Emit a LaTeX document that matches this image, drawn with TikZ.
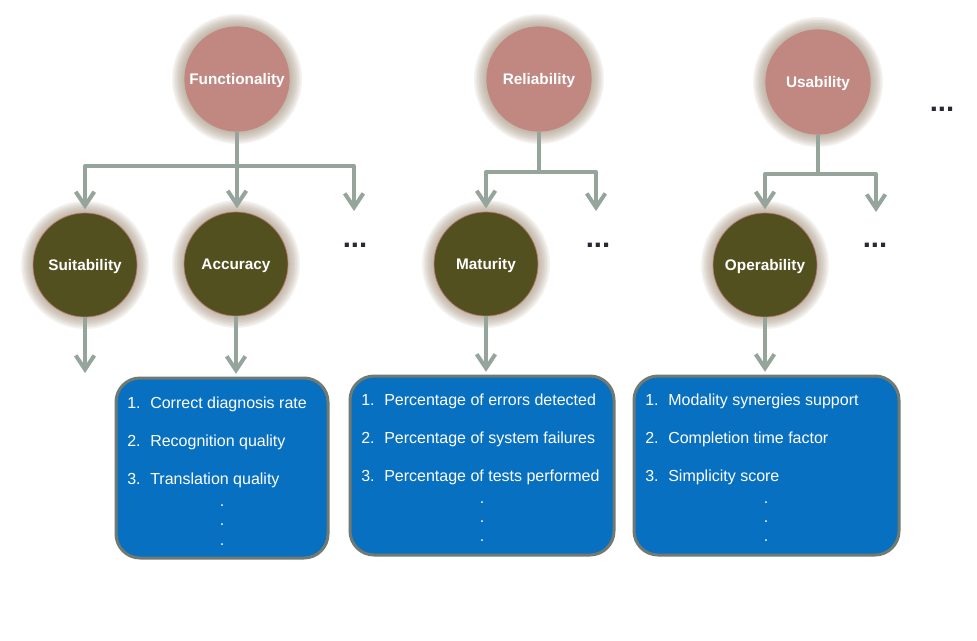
\documentclass[tikz,border=0pt]{standalone}
\usepackage{fontspec}
\setmainfont{Liberation Sans}
\usetikzlibrary{arrows.meta}
\definecolor{pinkc}{RGB}{192,136,128}
\definecolor{olivec}{RGB}{83,80,32}
\definecolor{olivebd}{RGB}{185,120,110}
\definecolor{glowc}{RGB}{160,142,122}
\definecolor{arrc}{RGB}{149,165,155}
\definecolor{boxc}{RGB}{8,112,192}
\definecolor{boxbd}{RGB}{110,122,114}
\definecolor{dotc}{RGB}{40,40,55}
\tikzset{
  topc/.style={circle, fill=pinkc, minimum size=79pt, inner sep=0pt, text=white, text height=8.5pt, text depth=0pt, font=\fontsize{11.5}{13}\selectfont\bfseries},
  subc/.style={circle, fill=olivec, draw=olivebd, line width=0.5pt, minimum size=78pt, inner sep=0pt, text=white, text height=8.5pt, text depth=0pt, font=\fontsize{11.5}{13}\selectfont\bfseries},
  conn/.style={draw=arrc, line width=3pt, line join=round, -{Straight Barb[length=10.5pt,width=14pt,line width=3pt]}},
  trunk/.style={draw=arrc, line width=3pt, line join=round},
  listbox/.style={rectangle, rounded corners=18pt, fill=boxc, draw=boxbd, line width=2.25pt, inner sep=0pt},
  item/.style={anchor=base west, inner sep=0pt, text=white, font=\fontsize{12}{14}\selectfont},
  vdot/.style={anchor=base, inner sep=0pt, text=white, font=\fontsize{12}{14}\selectfont},
  more/.style={anchor=base, inner sep=0pt, text=dotc, font=\fontsize{22}{24}\selectfont\bfseries}
}
\newcommand{\glowat}[3]{%
  \foreach \gi in {1,...,8}{%
    \fill[glowc, opacity=0.11] (#1,#2) circle[radius={(#3+\gi*1.5)*0.75pt}];
  }%
}
\begin{document}
\begin{tikzpicture}[x=0.75pt,y=-0.75pt]
\useasboundingbox (0,0) rectangle (977,641);

% glows
\glowat{237}{79}{53}
\glowat{539}{79}{53}
\glowat{818}{82}{53}
\glowat{85}{265}{52}
\glowat{236}{264}{52}
\glowat{486}{264}{52}
\glowat{765}{265}{52}

% top circles
\node[topc] (func) at (237,79) {Functionality};
\node[topc] (rel) at (539,79) {Reliability};
\node[topc] (usa) at (818,82) {Usability};

% sub circles
\node[subc] (suit) at (85,265) {Suitability};
\node[subc] (acc) at (236,264) {Accuracy};
\node[subc] (mat) at (486,264) {Maturity};
\node[subc] (ope) at (765,265) {Operability};

% ellipses
\node[more] (m0) at (942,112) {...};
\node[more] (m1) at (355,248) {...};
\node[more] (m2) at (598,248) {...};
\node[more] (m3) at (875,248) {...};

% junction coordinates
\coordinate (fj) at (237,166);
\coordinate (rj) at (539,172);
\coordinate (uj) at (818,174);
\coordinate (f3) at (354,211);
\coordinate (r2) at (596,211);
\coordinate (u2) at (876,212);
\coordinate (sd) at (85,373);

% connectors top level
\draw[trunk] (func.south) -- (fj);
\draw[conn, shorten >=2.5pt] (fj) -| (suit.north);
\draw[conn, shorten >=2.5pt] (fj) -- (acc.north -| fj);
\draw[conn] (fj) -| (f3);

\draw[trunk] (rel.south) -- (rj);
\draw[conn, shorten >=2.5pt] (rj) -| (mat.north);
\draw[conn] (rj) -| (r2);

\draw[trunk] (usa.south) -- (uj);
\draw[conn, shorten >=2.5pt] (uj) -| (ope.north);
\draw[conn] (uj) -| (u2);

% boxes
\node[listbox, minimum width=159pt, minimum height=135pt] (b1) at (222,468) {};
\node[listbox, minimum width=198pt, minimum height=134.25pt] (b2) at (482,465.5) {};
\node[listbox, minimum width=198.75pt, minimum height=134.25pt] (b3) at (766.5,465.5) {};

% lower connectors
\draw[conn] (suit.south) -- (sd);
\draw[conn, shorten >=2pt] (acc.south) -- (acc.south |- b1.north);
\draw[conn, shorten >=2pt] (mat.south) -- (mat.south |- b2.north);
\draw[conn, shorten >=2pt] (ope.south) -- (ope.south |- b3.north);

% box 1 text
\node[item] (b1n1) at (127,408) {1.};
\node[item] (b1t1) at (150,408) {Correct diagnosis rate};
\node[item] (b1n2) at (127,446) {2.};
\node[item] (b1t2) at (150,446) {Recognition quality};
\node[item] (b1n3) at (127,484) {3.};
\node[item] (b1t3) at (150,484) {Translation quality};
\node[vdot] (b1d1) at (222,506) {.};
\node[vdot] (b1d2) at (222,525) {.};
\node[vdot] (b1d3) at (222,545) {.};

% box 2 text
\node[item] (b2n1) at (361,405) {1.};
\node[item] (b2t1) at (384,405) {Percentage of errors detected};
\node[item] (b2n2) at (361,443) {2.};
\node[item] (b2t2) at (384,443) {Percentage of system failures};
\node[item] (b2n3) at (361,481) {3.};
\node[item] (b2t3) at (384,481) {Percentage of tests performed};
\node[vdot] (b2d1) at (482,503) {.};
\node[vdot] (b2d2) at (482,522) {.};
\node[vdot] (b2d3) at (482,541) {.};

% box 3 text
\node[item] (b3n1) at (645,405) {1.};
\node[item] (b3t1) at (668,405) {Modality synergies support};
\node[item] (b3n2) at (645,443) {2.};
\node[item] (b3t2) at (668,443) {Completion time factor};
\node[item] (b3n3) at (645,481) {3.};
\node[item] (b3t3) at (668,481) {Simplicity score};
\node[vdot] (b3d1) at (766,503) {.};
\node[vdot] (b3d2) at (766,522) {.};
\node[vdot] (b3d3) at (766,541) {.};
\end{tikzpicture}
\end{document}
